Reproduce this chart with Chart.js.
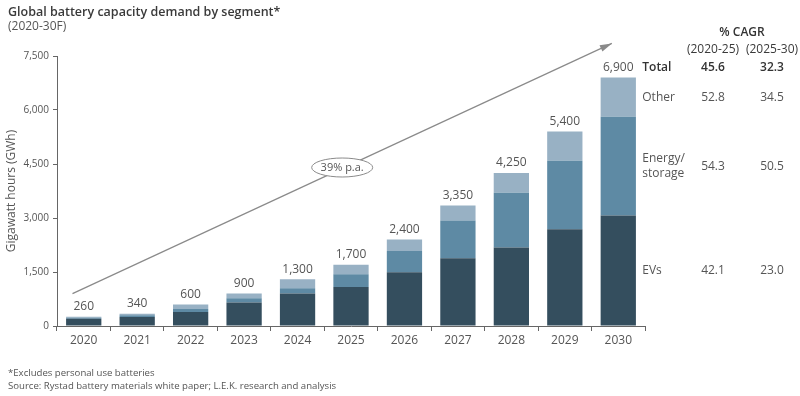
<!DOCTYPE html>
<html>
<head>
<meta charset="utf-8">
<script src="https://cdn.jsdelivr.net/npm/chart.js@4/dist/chart.umd.min.js"></script>
<style>
  html, body { margin: 0; padding: 0; background: #fff; }
  canvas { display: block; }
</style>
</head>
<body>
<canvas id="batteryChart" width="800" height="396"></canvas>
<script>
// data (GWh)
const years = ['2020', '2021', '2022', '2023', '2024', '2025', '2026', '2027', '2028', '2029', '2030'];
const evs = [200, 250, 390, 650, 900, 1080, 1490, 1880, 2180, 2690, 3070];
const energyStorage = [30, 50, 80, 120, 150, 360, 590, 1050, 1520, 1900, 2740];
const other = [30, 40, 130, 130, 250, 260, 320, 420, 550, 810, 1090];
const totals = [260, 340, 600, 900, 1300, 1700, 2400, 3350, 4250, 5400, 6900];
const yTicks = [0, 1500, 3000, 4500, 6000, 7500];

// CAGR table on the right
const cagrRows = ['Total', 'Other', 'Energy/\nstorage', 'EVs'];
const cagr2020to25 = ['45.6', '52.8', '54.3', '42.1'];
const cagr2025to30 = ['32.3', '34.5', '50.5', '23.0'];
const growthLabel = '39% p.a.';

const FONT = "'Open Sans', 'Noto Sans', sans-serif";
const GREY = '#555';

const extras = {
  id: 'extras',
  afterDraw(chart) {
    const ctx = chart.ctx;
    const x = chart.scales.x;
    const y = chart.scales.y;
    ctx.save();

    // title + subtitle
    ctx.textAlign = 'left';
    ctx.textBaseline = 'middle';
    ctx.fillStyle = '#3a3a3a';
    ctx.font = '600 12.5px ' + FONT;
    ctx.fillText('Global battery capacity demand by segment*', 8, 12);
    ctx.font = '12px ' + FONT;
    ctx.fillStyle = GREY;
    ctx.fillText('(2020-30F)', 8, 27);

    // footnotes
    ctx.font = '9.6px ' + FONT;
    ctx.fillText('*Excludes personal use batteries', 8, 373);
    ctx.fillText('Source: Rystad battery materials white paper; L.E.K. research and analysis', 8, 386);

    // totals above bars
    ctx.textAlign = 'center';
    ctx.font = '12px ' + FONT;
    ctx.fillStyle = GREY;
    totals.forEach((t, i) => {
      ctx.fillText(t.toLocaleString('en-US'), x.getPixelForValue(i), y.getPixelForValue(t) - 10);
    });

    // growth arrow
    const x0 = x.getPixelForValue(-0.21), y0 = y.getPixelForValue(900);
    const x1 = x.getPixelForValue(9.88), y1 = y.getPixelForValue(7850);
    ctx.strokeStyle = '#8a8a8a';
    ctx.fillStyle = '#8a8a8a';
    ctx.lineWidth = 1.2;
    ctx.beginPath();
    ctx.moveTo(x0, y0);
    ctx.lineTo(x1, y1);
    ctx.stroke();
    const ang = Math.atan2(y1 - y0, x1 - x0);
    ctx.beginPath();
    ctx.moveTo(x1, y1);
    ctx.lineTo(x1 - 12 * Math.cos(ang) + 3.5 * Math.sin(ang), y1 - 12 * Math.sin(ang) - 3.5 * Math.cos(ang));
    ctx.lineTo(x1 - 12 * Math.cos(ang) - 3.5 * Math.sin(ang), y1 - 12 * Math.sin(ang) + 3.5 * Math.cos(ang));
    ctx.closePath();
    ctx.fill();

    // ellipse label on the arrow
    const ex = x0 + (x1 - x0) * 0.5, ey = y0 + (y1 - y0) * 0.5 - 1;
    ctx.beginPath();
    ctx.ellipse(ex, ey, 30.5, 9.5, 0, 0, Math.PI * 2);
    ctx.fillStyle = '#fff';
    ctx.fill();
    ctx.lineWidth = 1;
    ctx.stroke();
    ctx.fillStyle = GREY;
    ctx.font = '11px ' + FONT;
    ctx.fillText(growthLabel, ex, ey);

    // CAGR table
    const last = years.length - 1;
    const col1 = 713, col2 = 772, labelX = x.getPixelForValue(last) + 24;
    ctx.fillStyle = '#333';
    ctx.font = '600 12px ' + FONT;
    ctx.fillText('% CAGR', 742, 33);
    ctx.font = '12px ' + FONT;
    ctx.fillStyle = '#3a3a3a';
    ctx.fillText('(2020-25)', col1, 50);
    ctx.fillText('(2025-30)', col2, 50);

    const rowY = [
      y.getPixelForValue(totals[last]) - 10,
      y.getPixelForValue(evs[last] + energyStorage[last] + other[last] / 2),
      y.getPixelForValue(evs[last] + energyStorage[last] / 2),
      y.getPixelForValue(evs[last] / 2)
    ];
    cagrRows.forEach((label, r) => {
      const bold = r === 0;
      ctx.font = (bold ? '600 ' : '') + '12px ' + FONT;
      ctx.fillStyle = bold ? '#333' : GREY;
      ctx.textAlign = 'left';
      const lines = label.split('\n');
      lines.forEach((ln, k) => {
        ctx.fillText(ln, labelX, rowY[r] + (k - (lines.length - 1) / 2) * 15);
      });
      ctx.textAlign = 'center';
      ctx.fillText(cagr2020to25[r], col1, rowY[r]);
      ctx.fillText(cagr2025to30[r], col2, rowY[r]);
    });

    ctx.restore();
  }
};

new Chart(document.getElementById('batteryChart'), {
  type: 'bar',
  data: {
    labels: years,
    datasets: [
      { label: 'EVs', data: evs, backgroundColor: '#344e5e' },
      { label: 'Energy/storage', data: energyStorage, backgroundColor: '#5e8aa4' },
      { label: 'Other', data: other, backgroundColor: '#98b1c4' }
    ]
  },
  options: {
    responsive: false,
    animation: false,
    layout: { padding: { top: 56, left: 0, right: 155, bottom: 40 } },
    datasets: { bar: { categoryPercentage: 1, barPercentage: 0.66 } },
    plugins: { legend: { display: false }, tooltip: { enabled: false } },
    scales: {
      x: {
        stacked: true,
        afterFit(s) { s.height = 30; },
        grid: { offset: true, drawOnChartArea: false, tickLength: 5, color: '#666' },
        border: { color: '#666' },
        ticks: { color: GREY, font: { family: FONT, size: 12 }, padding: 2 }
      },
      y: {
        stacked: true,
        min: 0,
        max: 7500,
        afterFit(s) { s.width = 57; },
        afterBuildTicks(s) { s.ticks = yTicks.map(v => ({ value: v })); },
        grid: { drawOnChartArea: false, tickLength: 4, color: '#666' },
        border: { color: '#666' },
        ticks: { color: GREY, font: { family: FONT, size: 10 }, padding: 4 },
        title: { display: true, text: 'Gigawatt hours (GWh)', color: GREY, font: { family: FONT, size: 12 }, padding: 4 }
      }
    }
  },
  plugins: [extras]
});
</script>
</body>
</html>
